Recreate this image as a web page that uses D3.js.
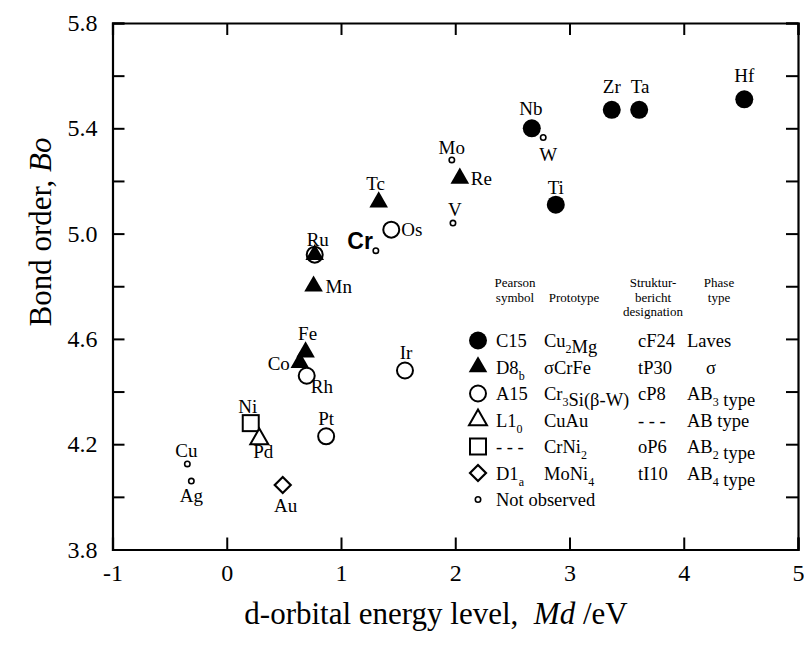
<!DOCTYPE html>
<html>
<head>
<meta charset="utf-8">
<script src="https://cdn.jsdelivr.net/npm/d3@7"></script>
<style>
  html, body { margin: 0; padding: 0; background: #fff; }
  svg { display: block; }
</style>
</head>
<body>
<svg id="chart" width="804" height="650"></svg>
<script>
// ---------------- data ----------------
const elements = ["Hf","Zr","Ta","Nb","Ti","W","Mo","V","Re","Tc","Os","Cr","Ru","Ru","Mn","Fe","Co","Rh","Ir","Pt","Ni","Pd","Au","Cu","Ag"];
const mdValues = [4.53,3.37,3.61,2.67,2.88,2.77,1.97,1.98,2.04,1.33,1.44,1.305,0.77,0.77,0.76,0.69,0.64,0.70,1.56,0.87,0.21,0.285,0.49,-0.345,-0.31];
const boValues = [5.51,5.47,5.47,5.40,5.11,5.365,5.28,5.04,5.21,5.12,5.015,4.935,4.92,4.92,4.80,4.55,4.51,4.46,4.48,4.23,4.28,4.22,4.045,4.125,4.06];
const phases   = ["C15","C15","C15","C15","C15","none","none","none","D8b","D8b","A15","none","D8b","A15","D8b","D8b","D8b","A15","A15","A15","CrNi2","L10","D1a","none","none"];

const xTicks = [-1,0,1,2,3,4,5];
const yTicks = [3.8,4.0,4.2,4.4,4.6,4.8,5.0,5.2,5.4,5.6,5.8];
const yTickLabels = [3.8,4.2,4.6,5.0,5.4,5.8];

const legendKeys      = ["C15","D8b","A15","L10","CrNi2","D1a","none"];
const legendPearson   = ["C15","D8_b","A15","L1_0","- - -","D1_a","Not observed"];
const legendPrototype = ["Cu_2Mg","σCrFe","Cr_3Si(β-W)","CuAu","CrNi_2","MoNi_4",""];
const legendStruktur  = ["cF24","tP30","cP8","- - -","oP6","tI10",""];
const legendPhase     = ["Laves","σ","AB_3 type","AB type","AB_2 type","AB_4 type",""];

// ---------------- layout ----------------
const SERIF = "'Liberation Serif', 'Times New Roman', serif";
const svg = d3.select("#chart");
const x = d3.scaleLinear().domain([-1,5]).range([112.5,798]);
const y = d3.scaleLinear().domain([3.8,5.8]).range([549.5,23]);

// label placement (pixel offsets from the marker)
const labelPos = {
  Hf:[0,-17,"middle"], Zr:[0,-17,"middle"], Ta:[1,-17,"middle"], Nb:[-1,-13,"middle"],
  Ti:[0,-11,"middle"], W:[5,23,"middle"], Mo:[0,-6,"middle"], V:[2,-7,"middle"],
  Re:[11,7,"start"], Tc:[-3,-12,"middle"], Os:[10,6,"start"], Cr:[-3,-2,"end"],
  Ru:[3,-9,"middle"], Mn:[12,7,"start"], Fe:[2,-12,"middle"], Co:[-10,7,"end"],
  Rh:[4,17,"start"], Ir:[1,-11,"middle"], Pt:[0,-11,"middle"], Ni:[-3,-10,"middle"],
  Pd:[4,19,"middle"], Au:[3,27,"middle"], Cu:[-1,-7,"middle"], Ag:[0,21,"middle"]
};

// marker drawing
function drawMarker(g, key) {
  if (key === "C15") {
    g.append("circle").attr("r", 9).attr("fill", "#000");
  } else if (key === "D8b") {
    g.append("path").attr("d", d3.symbol().type(d3.symbolTriangle).size(150)()).attr("fill", "#000");
  } else if (key === "A15") {
    g.append("circle").attr("r", 8).attr("fill", "none").attr("stroke", "#000").attr("stroke-width", 2);
  } else if (key === "L10") {
    g.append("path").attr("d", d3.symbol().type(d3.symbolTriangle).size(140)()).attr("fill", "#fff").attr("stroke", "#000").attr("stroke-width", 2);
  } else if (key === "CrNi2") {
    g.append("rect").attr("x", -8).attr("y", -8).attr("width", 16).attr("height", 16).attr("fill", "#fff").attr("stroke", "#000").attr("stroke-width", 2);
  } else if (key === "D1a") {
    g.append("path").attr("d", "M0,-8L8,0L0,8L-8,0Z").attr("fill", "#fff").attr("stroke", "#000").attr("stroke-width", 2.2);
  } else {
    g.append("circle").attr("r", 2.7).attr("fill", "#fff").attr("stroke", "#000").attr("stroke-width", 1.6);
  }
}

// rich text with "_x" subscripts
function rich(sel, str, subSize) {
  const parts = str.split(/(_.)/);
  parts.forEach(p => {
    if (!p) return;
    if (p[0] === "_") {
      sel.append("tspan").attr("font-size", subSize).attr("dy", 6).text(p[1]);
      sel.append("tspan").attr("dy", -6).text("");
    } else {
      sel.append("tspan").text(p);
    }
  });
}

function txt(parent) {
  return parent.append("text").style("font-family", SERIF).attr("fill", "#000");
}

// ---------------- axes ----------------
const axisG = svg.append("g").attr("class", "axes");
const fmt = d => yTickLabels.some(v => Math.abs(v - d) < 1e-9) ? d.toFixed(1) : "";

const gL = axisG.append("g").attr("transform", `translate(${x(-1)},0)`)
  .call(d3.axisLeft(y).tickValues(yTicks).tickSize(-12).tickPadding(15).tickFormat(fmt));
const gR = axisG.append("g").attr("transform", `translate(${x(5)},0)`)
  .call(d3.axisRight(y).tickValues(yTicks).tickSize(-12).tickFormat(""));
const gB = axisG.append("g").attr("transform", `translate(0,${y(3.8)})`)
  .call(d3.axisBottom(x).tickValues(xTicks).tickSize(-12).tickPadding(14).tickFormat(d => d < 0 ? "-" + Math.abs(d) : String(d)));
const gT = axisG.append("g").attr("transform", `translate(0,${y(5.8)})`)
  .call(d3.axisTop(x).tickValues(xTicks).tickSize(-12).tickFormat(""));

[gL, gR, gB, gT].forEach(g => {
  g.select(".domain").attr("stroke", "#000").attr("stroke-width", 2.2);
  g.selectAll(".tick line").attr("stroke", "#000").attr("stroke-width", 2);
  g.selectAll(".tick text").style("font-family", SERIF).attr("font-size", 24).attr("fill", "#000");
});

// axis titles
const xt = txt(svg).attr("x", 436).attr("y", 624).attr("text-anchor", "middle").attr("font-size", 31);
xt.append("tspan").text("d-orbital energy level,\u00a0\u00a0");
xt.append("tspan").attr("font-style", "italic").text("Md");
xt.append("tspan").text(" /eV");

const yt = txt(svg).attr("transform", "translate(51,232) rotate(-90)").attr("text-anchor", "middle").attr("font-size", 31);
yt.append("tspan").text("Bond order, ");
yt.append("tspan").attr("font-style", "italic").text("Bo");

// ---------------- points ----------------
const pts = elements.map((e, i) => ({ el: e, md: mdValues[i], bo: boValues[i], ph: phases[i] }));
const ptG = svg.append("g").attr("class", "points");
pts.forEach(p => {
  const g = ptG.append("g").attr("transform", `translate(${x(p.md)},${y(p.bo)})`);
  drawMarker(g, p.ph);
});

// labels (one per element)
const labelled = new Set();
pts.forEach(p => {
  if (labelled.has(p.el)) return;
  labelled.add(p.el);
  const lp = labelPos[p.el];
  const t = txt(svg)
    .attr("x", x(p.md) + lp[0]).attr("y", y(p.bo) + lp[1])
    .attr("text-anchor", lp[2]).attr("font-size", 19).text(p.el);
  if (p.el === "Cr") {
    t.style("font-family", "'Liberation Sans', Arial, sans-serif").attr("font-weight", "bold").attr("font-size", 23);
  }
});

// ---------------- legend ----------------
const leg = svg.append("g").attr("class", "legend");
const hdr = [
  { x: 515, lines: ["Pearson", "symbol"] },
  { x: 574, lines: [null, "Prototype"] },
  { x: 653, lines: ["Struktur-", "bericht", "designation"] },
  { x: 719, lines: ["Phase", "type"] }
];
hdr.forEach(h => {
  h.lines.forEach((l, i) => {
    if (!l) return;
    txt(leg).attr("x", h.x).attr("y", 287 + i * 14.5)
      .attr("text-anchor", "middle").attr("font-size", 13).text(l);
  });
});

legendKeys.forEach((k, i) => {
  const base = 347 + i * 26.5;
  const mg = leg.append("g").attr("transform", `translate(478,${base - 6.5})`);
  drawMarker(mg, k);
  rich(txt(leg).attr("x", 496).attr("y", base).attr("font-size", 18.5), legendPearson[i], 12);
  rich(txt(leg).attr("x", 544).attr("y", base).attr("font-size", 18.5), legendPrototype[i], 12);
  rich(txt(leg).attr("x", 638).attr("y", base).attr("font-size", 18.5), legendStruktur[i], 12);
  rich(txt(leg).attr("x", legendPhase[i] === "σ" ? 706 : 687).attr("y", base).attr("font-size", 18.5), legendPhase[i], 12);
});
</script>
</body>
</html>
